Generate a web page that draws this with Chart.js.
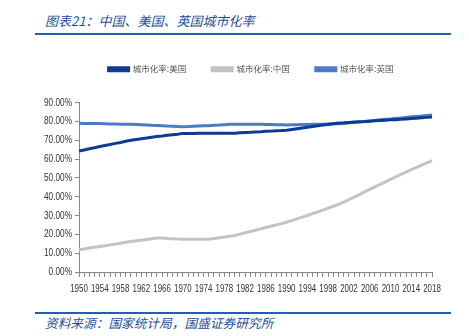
<!DOCTYPE html>
<html lang="zh">
<head>
<meta charset="utf-8">
<script src="https://cdn.jsdelivr.net/npm/chart.js@4"></script>
<style>
    body { margin: 0; background: #fff; width: 469px; height: 336px; position: relative; overflow: hidden; }
    .head { position: absolute; left: 45px; top: 11px; font: italic 13px "Noto Sans CJK SC", sans-serif; color: #1f4e9c; }
    .rule { position: absolute; left: 35px; width: 416px; height: 2px; background: #1f5fb0; }
    .foot { position: absolute; left: 45px; top: 313px; font: italic 12.7px "Noto Sans CJK SC", sans-serif; color: #1f4e9c; }
    #wrap { position: absolute; left: 0; top: 37px; width: 469px; height: 270px; }
</style>
</head>
<body>

<div class="head">图表21：中国、美国、英国城市化率</div>
<div class="rule" style="top:33px"></div>
<div id="wrap"><canvas id="urbanChart"></canvas></div>
<div class="rule" style="top:312px"></div>
<div class="foot">资料来源：国家统计局，国盛证券研究所</div>

<script>
    // 年份 1950-2018
    var years = [
        '1950','1951','1952','1953','1954','1955','1956','1957','1958','1959',
        '1960','1961','1962','1963','1964','1965','1966','1967','1968','1969',
        '1970','1971','1972','1973','1974','1975','1976','1977','1978','1979',
        '1980','1981','1982','1983','1984','1985','1986','1987','1988','1989',
        '1990','1991','1992','1993','1994','1995','1996','1997','1998','1999',
        '2000','2001','2002','2003','2004','2005','2006','2007','2008','2009',
        '2010','2011','2012','2013','2014','2015','2016','2017','2018'
    ];

    // 城市化率:美国 (%)
    var usRate = [
        64.2, 64.8, 65.4, 66.0, 66.6, 67.2, 67.7, 68.3, 68.8, 69.4,
        70.0, 70.4, 70.8, 71.1, 71.5, 71.9, 72.2, 72.6, 72.9, 73.2,
        73.6, 73.6, 73.6, 73.7, 73.7, 73.7, 73.7, 73.7, 73.7, 73.7,
        73.7, 73.9, 74.1, 74.2, 74.4, 74.5, 74.7, 74.8, 75.0, 75.1,
        75.3, 75.7, 76.1, 76.5, 76.9, 77.3, 77.6, 78.0, 78.3, 78.7,
        79.1, 79.2, 79.4, 79.6, 79.8, 79.9, 80.1, 80.3, 80.5, 80.6,
        80.8, 80.9, 81.1, 81.3, 81.5, 81.7, 81.9, 82.1, 82.3
    ];

    // 城市化率:中国 (%)
    var cnRate = [
        11.8, 12.2, 12.7, 13.1, 13.5, 13.9, 14.4, 14.8, 15.3, 15.8,
        16.2, 16.6, 16.9, 17.3, 17.7, 18.1, 18.0, 17.8, 17.7, 17.5,
        17.4, 17.4, 17.4, 17.4, 17.4, 17.4, 17.8, 18.2, 18.6, 19.0,
        19.4, 20.1, 20.8, 21.5, 22.2, 22.9, 23.6, 24.3, 25.0, 25.7,
        26.4, 27.3, 28.2, 29.1, 30.0, 31.0, 31.9, 32.9, 33.9, 34.9,
        35.9, 37.1, 38.4, 39.8, 41.1, 42.5, 43.9, 45.2, 46.5, 47.9,
        49.2, 50.5, 51.8, 53.0, 54.3, 55.5, 56.7, 58.0, 59.2
    ];

    // 城市化率:英国 (%)
    var ukRate = [
        79.0, 78.9, 78.9, 78.8, 78.8, 78.7, 78.6, 78.6, 78.5, 78.5,
        78.4, 78.3, 78.2, 78.1, 77.9, 77.8, 77.7, 77.5, 77.4, 77.3,
        77.1, 77.2, 77.4, 77.5, 77.6, 77.7, 77.9, 78.0, 78.2, 78.4,
        78.5, 78.5, 78.4, 78.4, 78.4, 78.4, 78.3, 78.3, 78.2, 78.2,
        78.1, 78.2, 78.2, 78.3, 78.3, 78.4, 78.4, 78.5, 78.6, 78.7,
        78.7, 78.9, 79.2, 79.4, 79.7, 79.9, 80.2, 80.5, 80.8, 81.1,
        81.3, 81.6, 81.8, 82.1, 82.4, 82.6, 82.8, 83.1, 83.4
    ];

    var yTicks = [0, 10, 20, 30, 40, 50, 60, 70, 80, 90];

    // the original uses a condensed font for axis labels, so squeeze them horizontally
    var narrowLabels = {
        id: 'narrowLabels',
        afterDraw: function (chart) {
            var c = chart.ctx;
            var xs = chart.scales.x;
            var ys = chart.scales.y;
            c.save();
            c.fillStyle = '#333';
            c.font = '11px "Liberation Sans", Arial, sans-serif';
            c.textBaseline = 'top';
            c.textAlign = 'center';
            years.forEach(function (yr, i) {
                if (i % 4 !== 0) return;
                c.save();
                c.translate(xs.getPixelForValue(i), xs.top + 11);
                c.scale(0.72, 1);
                c.fillText(yr, 0, 0);
                c.restore();
            });
            c.textBaseline = 'middle';
            c.textAlign = 'right';
            yTicks.forEach(function (v) {
                c.save();
                c.translate(ys.right - 7, ys.getPixelForValue(v));
                c.scale(0.75, 1);
                c.fillText(v.toFixed(2) + '%', 0, 0);
                c.restore();
            });
            c.restore();
        }
    };

    // extra room under the legend
    var legendGap = {
        id: 'legendGap',
        beforeInit: function (chart) {
            var origFit = chart.legend.fit;
            chart.legend.fit = function () {
                origFit.bind(chart.legend)();
                this.height += 19;
            };
        }
    };

    var ctx = document.getElementById('urbanChart').getContext('2d');
    var urbanChart = new Chart(ctx, {
        type: 'line',
        data: {
            labels: years,
            datasets: [
                { label: '城市化率:美国', data: usRate, borderColor: '#0b3c94', backgroundColor: '#0b3c94', borderWidth: 3 },
                { label: '城市化率:中国', data: cnRate, borderColor: '#c3c3c3', backgroundColor: '#c3c3c3', borderWidth: 3 },
                { label: '城市化率:英国', data: ukRate, borderColor: '#4a7cc6', backgroundColor: '#4a7cc6', borderWidth: 3 }
            ]
        },
        plugins: [narrowLabels, legendGap],
        options: {
            responsive: true,
            maintainAspectRatio: false,
            animation: false,
            elements: { point: { radius: 0 }, line: { tension: 0 } },
            layout: { padding: { left: 70, right: 37, top: 2, bottom: 5 } },
            plugins: {
                tooltip: { enabled: false },
                legend: {
                    position: 'top',
                    labels: {
                        boxWidth: 20,
                        boxHeight: 3,
                        padding: 26,
                        color: '#555',
                        font: { family: '"Noto Sans CJK SC", sans-serif', size: 8.5 }
                    }
                }
            },
            scales: {
                x: {
                    offset: false,
                    afterFit: function (scale) { scale.height = 30; },
                    grid: { drawOnChartArea: false, tickLength: 5, color: '#888' },
                    border: { color: '#888' },
                    ticks: { autoSkip: false, display: false }
                },
                y: {
                    min: 0,
                    max: 90,
                    afterBuildTicks: function (scale) {
                        scale.ticks = yTicks.map(function (v) { return { value: v }; });
                    },
                    afterFit: function (scale) { scale.width = 9; },
                    grid: { drawOnChartArea: false, tickLength: 4, color: '#888' },
                    border: { color: '#888' },
                    ticks: { display: false }
                }
            }
        }
    });
</script>
</body>
</html>
